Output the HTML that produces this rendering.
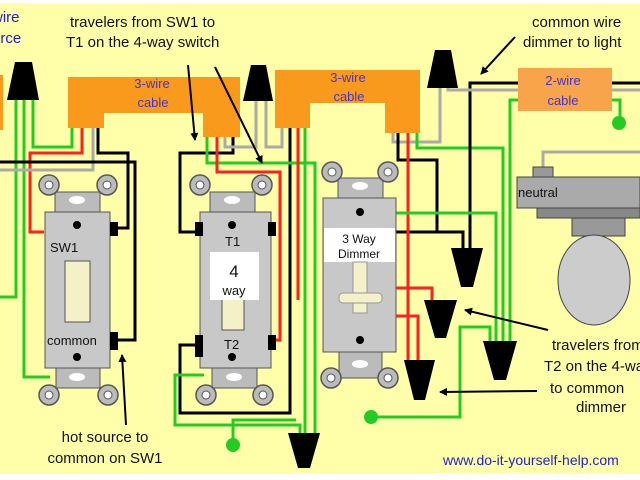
<!DOCTYPE html>
<html><head><meta charset="utf-8"><style>
html,body{margin:0;padding:0;background:#fff}
svg{display:block}
text{font-family:"Liberation Sans",sans-serif}
</style></head><body>
<svg width="640" height="480" viewBox="0 0 640 480" xmlns="http://www.w3.org/2000/svg">
<defs>
<marker id="ah" markerWidth="8" markerHeight="8" refX="7" refY="4" orient="auto" markerUnits="userSpaceOnUse"><path d="M0,0 L8,4 L0,8 Z" fill="#000"/></marker>
</defs>
<rect x="0" y="3" width="640" height="471" fill="#ffffaa"/>

<rect x="0" y="75" width="3" height="55" fill="#f99a1c"/>
<path d="M68,77 H240 V137 H203 V113 H104 V128 H68 Z" fill="#f99a1c"/>
<path d="M275,70 H420 V133 H385 V103 H310 V128 H275 Z" fill="#f99a1c"/>

<g fill="none" stroke-width="3" stroke-linejoin="miter">
<path d="M16,100 V297 H0" stroke="#22cc22"/>
<path d="M24,100 V377 H50" stroke="#22cc22"/>
<path d="M33,100 V147 H72 V128" stroke="#22cc22"/>
<path d="M82,128 V153 H30 V232 H44" stroke="#ff2020"/>
<path d="M93,128 V170 H0" stroke="#aaaaaa"/>
<path d="M98,128 V153 H128 V228 H114" stroke="#000"/>
<path d="M0,162 H135 V340 H114" stroke="#000"/>
<path d="M233,137 V153 H180 V232 H198" stroke="#000"/>
<path d="M198,345 H180 V413 H290 V128" stroke="#000"/>
<path d="M207,137 V163 H315 V433" stroke="#22cc22"/>
<path d="M305,128 V433" stroke="#22cc22"/>
<path d="M217,137 V172 H280 V340 H272" stroke="#ff2020"/>
<path d="M298,128 V300" stroke="#ff2020"/>
<path d="M225,137 V147 H256 V100" stroke="#aaaaaa"/>
<path d="M266,100 V147 H282 V128" stroke="#aaaaaa"/>
<path d="M204,375 H175 V425 H300 V433" stroke="#22cc22"/>
<path d="M233,445 V420 H296" stroke="#22cc22"/>
<path d="M393,133 V142 H440 V88" stroke="#aaaaaa"/>
<path d="M398,133 V160 H437 V232 M396,232 H463 V250" stroke="#000"/>
<path d="M408,133 V362" stroke="#ff2020"/>
<path d="M417,133 V148 H503 V342" stroke="#22cc22"/>
<path d="M470,250 V83 H640" stroke="#000"/>
<path d="M448,88 V90 H640" stroke="#aaaaaa"/>
<path d="M510,342 V100 H518" stroke="#22cc22"/>
<path d="M612,100 H620 V123" stroke="#22cc22"/>
<path d="M543,167 V152 H640" stroke="#aaaaaa"/>
<path d="M396,213 H496 V342" stroke="#22cc22"/>
<path d="M396,288 H432 V302" stroke="#ff2020"/>
<path d="M396,316 H418 V362" stroke="#ff2020"/>
<path d="M371,417 H460 V327 H490 V342" stroke="#22cc22"/>
</g>
<rect x="518" y="68" width="94" height="43" fill="#f7a44a"/>
<circle cx="233" cy="445" r="7" fill="#22cc22"/>
<circle cx="371" cy="417" r="7" fill="#22cc22"/>
<circle cx="619" cy="123" r="7" fill="#22cc22"/>

<g fill="#000">
<polygon points="15,62 32,62 39,100 7,100"/>
<polygon points="251,65 266,65 273,101 243,101"/>
<polygon points="435,50 451,50 458,88 427,88"/>
<polygon points="451,248 483,248 473,287 461,287"/>
<polygon points="424,300 457,300 446,338 435,338"/>
<polygon points="483,341 517,341 506,380 494,380"/>
<polygon points="404,360 435,360 425,400 414,400"/>
<polygon points="288,433 320,433 310,468 298,468"/>
</g>

<g stroke="#555" stroke-width="1">
<rect x="55" y="192" width="45" height="20" fill="#bbb"/>
<rect x="45" y="212" width="65" height="156" fill="#c8c8c8"/>
<rect x="56" y="368" width="44" height="20" fill="#bbb"/>
<rect x="65" y="261" width="25" height="61" fill="#f4f0c8"/>
<rect x="210" y="192" width="45" height="20" fill="#bbb"/>
<rect x="200" y="212" width="71" height="156" fill="#c8c8c8"/>
<rect x="212" y="368" width="45" height="20" fill="#bbb"/>
<rect x="222" y="290" width="22" height="40" fill="#f4f0c8"/>
<rect x="338" y="178" width="45" height="20" fill="#bbb"/>
<rect x="323" y="198" width="73" height="154" fill="#c8c8c8"/>
<rect x="339" y="352" width="43" height="26" fill="#bbb"/>
</g>
<rect x="210" y="252" width="49" height="48" fill="#fff"/>
<rect x="324" y="228" width="71" height="34" fill="#fff"/>
<rect x="353" y="262" width="14" height="51" fill="#f4f0c8" stroke="#999"/>
<rect x="339" y="293" width="43" height="10" rx="4" fill="#f4f0c8" stroke="#999"/>
<g fill="#fff"><ellipse cx="77" cy="200" rx="8" ry="4"/><ellipse cx="232" cy="200" rx="8" ry="4"/><ellipse cx="360" cy="186" rx="8" ry="4"/><ellipse cx="77" cy="377" rx="8" ry="4"/><ellipse cx="234" cy="377" rx="8" ry="4"/><ellipse cx="360" cy="364" rx="8" ry="4"/></g>
<g fill="#000"><circle cx="77" cy="225" r="4"/><circle cx="77" cy="357" r="4"/><circle cx="232" cy="225" r="4"/><circle cx="232" cy="357" r="4"/><circle cx="360" cy="212" r="4"/><circle cx="360" cy="340" r="4"/>
<rect x="110" y="222" width="8" height="14"/><rect x="110" y="332" width="8" height="18"/>
<rect x="195" y="222" width="8" height="14"/><rect x="268" y="222" width="8" height="14"/>
<rect x="195" y="335" width="8" height="22"/><rect x="268" y="335" width="8" height="15"/></g>
<g fill="#bbb" stroke="#555" stroke-width="1.5">
<circle cx="49" cy="185" r="10"/><circle cx="107" cy="185" r="10"/><circle cx="49" cy="395" r="10"/><circle cx="108" cy="395" r="10"/>
<circle cx="200" cy="185" r="10"/><circle cx="262" cy="185" r="10"/><circle cx="206" cy="395" r="10"/><circle cx="263" cy="395" r="10"/>
<circle cx="332" cy="172" r="10"/><circle cx="388" cy="172" r="10"/><circle cx="331" cy="378" r="10"/><circle cx="388" cy="378" r="10"/>
</g>
<g fill="#fff" stroke="#555"><circle cx="49" cy="185" r="4"/><circle cx="107" cy="185" r="4"/><circle cx="49" cy="395" r="4"/><circle cx="108" cy="395" r="4"/><circle cx="200" cy="185" r="4"/><circle cx="262" cy="185" r="4"/><circle cx="206" cy="395" r="4"/><circle cx="263" cy="395" r="4"/><circle cx="332" cy="172" r="4"/><circle cx="388" cy="172" r="4"/><circle cx="331" cy="378" r="4"/><circle cx="388" cy="378" r="4"/></g>

<g stroke="#444" stroke-width="1">
<rect x="533" y="167" width="20" height="11" fill="#999"/>
<rect x="517" y="177" width="123" height="31" fill="#aaa"/>
<rect x="537" y="208" width="103" height="10" fill="#888"/>
<rect x="572" y="218" width="53" height="18" fill="#999"/>
<ellipse cx="594" cy="280" rx="36" ry="45" fill="#ccc"/>
</g>

<g stroke="#000" stroke-width="2" marker-end="url(#ah)">
<line x1="188" y1="65" x2="195" y2="140"/>
<line x1="215" y1="67" x2="262" y2="163"/>
<line x1="515" y1="37" x2="481" y2="74"/>
<line x1="126" y1="425" x2="122" y2="355"/>
<line x1="548" y1="330" x2="465" y2="310"/>
<line x1="537" y1="391" x2="440" y2="392"/>
</g>

<g font-size="15" fill="#111">
<text x="70" y="27">travelers from SW1 to</text>
<text x="66" y="47">T1 on the 4-way switch</text>
<text x="532" y="27">common wire</text>
<text x="523" y="47">dimmer to light</text>
<text x="105" y="442" text-anchor="middle">hot source to</text>
<text x="105" y="463" text-anchor="middle">common on SW1</text>
<text x="552" y="350">travelers from</text>
<text x="544" y="371">T2 on the 4-way</text>
<text x="550" y="393">to common</text>
<text x="576" y="412">dimmer</text>
</g>
<g font-size="15" fill="#2222cc">
<text x="-8" y="22">wire</text>
<text x="-8" y="43">urce</text>
<text x="443" y="465" font-size="14">www.do-it-yourself-help.com</text>
</g>
<g font-size="13" fill="#4433cc" text-anchor="middle">
<text x="152" y="88">3-wire</text><text x="153" y="107">cable</text>
<text x="348" y="82">3-wire</text><text x="349" y="101">cable</text>
<text x="563" y="85">2-wire</text><text x="563" y="105">cable</text>
</g>
<g font-size="13" fill="#111">
<text x="518" y="197">neutral</text>
<text x="50" y="252">SW1</text>
<text x="47" y="345">common</text>
<text x="225" y="246">T1</text>
<text x="224" y="349">T2</text>
<text x="234" y="277" font-size="17" text-anchor="middle">4</text>
<text x="234" y="295" text-anchor="middle">way</text>
<text x="359" y="243" text-anchor="middle" font-size="12">3 Way</text>
<text x="359" y="258" text-anchor="middle" font-size="12">Dimmer</text>
</g>
</svg>
</body></html>
